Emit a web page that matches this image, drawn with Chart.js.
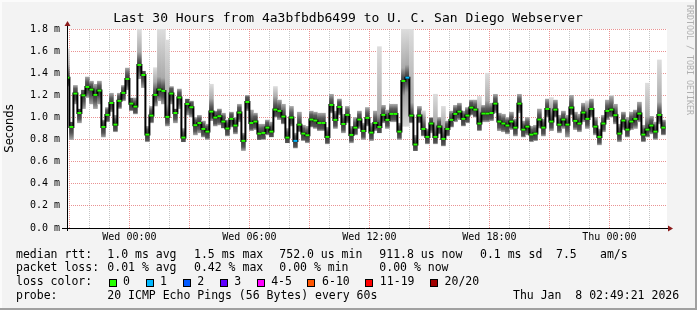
<!DOCTYPE html>
<html>
<head>
<meta charset="utf-8">
<script src="https://cdn.jsdelivr.net/npm/chart.js@4.4.1/dist/chart.umd.min.js"></script>
<style>
  html, body { margin: 0; padding: 0; background: #f3f3f3; }
  canvas { display: block; }
</style>
</head>
<body>
<canvas id="chart" width="697" height="310"></canvas>
<script>
const title = 'Last 30 Hours from 4a3bfbdb6499 to U. C. San Diego Webserver';
const stepStart = -3.2; // hours relative to Wed 00:00
const stepLen = 0.2;    // 12 minute rrd steps

// median rtt per step, in ms
const median = [
  1.36, 0.914, 1.216, 1.04, 1.20, 1.276, 1.252, 1.204, 1.243, 0.914,
  1.023, 1.131, 0.935, 1.15, 1.222, 1.348, 1.125, 1.098, 1.475, 1.384,
  0.845, 1.017, 1.204, 1.252, 1.24, 1.005, 1.216, 1.04, 1.18, 0.818,
  1.122, 1.092, 0.93, 0.95, 0.896, 0.872, 1.053, 0.999, 1.011, 0.963,
  0.90, 0.987, 0.927, 1.044, 0.788, 1.14, 0.95, 0.963, 0.854, 0.86,
  0.908, 0.872, 1.071, 1.059, 1.008, 0.818, 0.999, 0.788, 0.935, 0.854,
  0.839, 0.981, 0.972, 0.95, 0.95, 0.824, 1.113, 0.978, 1.095, 0.941,
  1.023, 0.842, 0.908, 0.981, 0.878, 0.996, 0.863, 0.95, 0.914, 1.023,
  0.978, 1.032, 1.032, 0.872, 1.33, 1.36, 1.017, 0.755, 1.017, 0.896,
  0.824, 0.945, 0.824, 0.917, 0.806, 0.896, 0.978, 1.032, 1.053, 0.987,
  1.017, 1.089, 1.071, 0.945, 1.035, 1.035, 1.04, 1.125, 0.963, 0.945,
  0.927, 0.963, 0.908, 1.125, 0.89, 0.917, 0.845, 0.854, 0.981, 0.908,
  1.077, 0.963, 1.071, 0.935, 0.981, 0.935, 1.089, 0.969, 0.945, 1.044,
  0.987, 1.077, 0.917, 0.824, 0.945, 1.059, 1.071, 1.02, 0.854, 0.972,
  0.89, 0.963, 0.987, 1.035, 0.845, 0.89, 0.927, 0.872, 1.023, 0.908
];

// smoke: fastest and slowest ping per step
const smokeLo = [
  1.28, 0.80, 1.12, 0.95, 1.08, 1.18, 1.12, 1.08, 1.12, 0.82,
  0.96, 1.05, 0.87, 1.08, 1.15, 1.25, 1.06, 1.03, 1.35, 1.27,
  0.78, 0.95, 1.10, 1.15, 1.12, 0.92, 1.12, 0.95, 1.08, 0.78,
  1.02, 1.00, 0.84, 0.86, 0.82, 0.80, 0.97, 0.92, 0.93, 0.90,
  0.83, 0.91, 0.85, 0.96, 0.70, 1.06, 0.88, 0.89, 0.80, 0.80,
  0.84, 0.82, 1.00, 0.98, 0.94, 0.77, 0.92, 0.72, 0.87, 0.79,
  0.77, 0.91, 0.90, 0.88, 0.88, 0.76, 1.04, 0.90, 1.02, 0.86,
  0.95, 0.77, 0.84, 0.90, 0.80, 0.92, 0.79, 0.88, 0.86, 0.95,
  0.90, 0.96, 0.96, 0.80, 0.92, 0.92, 0.95, 0.70, 0.95, 0.83,
  0.76, 0.86, 0.76, 0.85, 0.74, 0.83, 0.91, 0.96, 0.98, 0.92,
  0.95, 1.02, 1.00, 0.88, 0.96, 0.96, 0.97, 1.04, 0.88, 0.87,
  0.85, 0.89, 0.83, 1.04, 0.82, 0.84, 0.78, 0.79, 0.90, 0.83,
  1.00, 0.88, 1.00, 0.86, 0.90, 0.82, 1.02, 0.89, 0.87, 0.96,
  0.90, 1.00, 0.84, 0.75, 0.87, 0.98, 1.00, 0.94, 0.78, 0.89,
  0.82, 0.89, 0.90, 0.96, 0.78, 0.82, 0.85, 0.80, 0.94, 0.84
];
const smokeHi = [
  1.62, 0.96, 1.29, 1.08, 1.25, 1.37, 1.33, 1.30, 1.33, 0.98,
  1.09, 1.22, 1.02, 1.22, 1.29, 1.45, 1.18, 1.18, 1.80, 1.42,
  0.92, 1.10, 1.45, 1.80, 1.80, 1.70, 1.28, 1.08, 1.26, 0.90,
  1.17, 1.15, 1.00, 1.02, 0.97, 0.94, 1.30, 1.06, 1.08, 1.04,
  0.98, 1.05, 1.00, 1.12, 0.86, 1.20, 1.07, 1.04, 0.94, 0.94,
  0.98, 0.96, 1.28, 1.16, 1.12, 0.90, 1.10, 0.86, 1.05, 0.93,
  0.92, 1.06, 1.05, 1.04, 1.04, 0.91, 1.21, 1.06, 1.17, 1.03,
  1.10, 0.92, 1.00, 1.06, 0.95, 1.09, 0.95, 1.06, 1.64, 1.11,
  1.07, 1.12, 1.12, 0.95, 1.80, 1.80, 1.80, 0.84, 1.10, 1.06,
  0.90, 1.00, 1.21, 1.00, 1.10, 0.97, 1.06, 1.11, 1.13, 1.06,
  1.09, 1.16, 1.16, 1.19, 1.11, 1.40, 1.13, 1.21, 1.04, 1.03,
  1.00, 1.05, 0.99, 1.21, 0.97, 1.00, 0.92, 0.93, 1.08, 0.99,
  1.17, 1.18, 1.16, 1.02, 1.06, 1.02, 1.20, 1.05, 1.03, 1.13,
  1.15, 1.17, 1.00, 0.90, 1.02, 1.16, 1.20, 1.12, 0.94, 1.05,
  1.00, 1.05, 1.07, 1.14, 0.93, 1.31, 1.01, 0.96, 1.52, 0.98
];

// steps that lost pings
const lossSteps = [57, 85];
const lossCounts = [1, 1];

const labelHours = [0, 6, 12, 18, 24];
const timeLabels = ['Wed 00:00', 'Wed 06:00', 'Wed 12:00', 'Wed 18:00', 'Thu 00:00'];

const lossLabels = ['0', '1', '2', '3', '4-5', '6-10', '11-19', '20/20'];
const lossBins = [0, 1, 2, 3, 4, 6, 11, 20];
const lossColors = ['#26ff00', '#00b8ff', '#0059ff', '#5e00ff', '#ff00ff', '#ff5500', '#ff0000', '#a10000'];

const rttStats = ['1.0 ms avg', '1.5 ms max', '752.0 us min', '911.8 us now', '0.1 ms sd', '7.5', 'am/s'];
const lossStats = ['0.01 % avg', '0.42 % max', '0.00 % min', '0.00 % now'];
const statX = [107.3, 194, 279.3, 379.3, 480, 556, 600];
const probeText = '20 ICMP Echo Pings (56 Bytes) every 60s';
const stamp = 'Thu Jan  8 02:49:21 2026';

function lossOf(k) {
  const j = lossSteps.indexOf(k);
  return j < 0 ? 0 : lossCounts[j];
}
function lossColor(n) {
  let c = lossColors[0];
  lossBins.forEach((b, i) => { if (n >= b) c = lossColors[i]; });
  return c;
}

const smokeData = median.map((v, k) => ({ x: stepStart + stepLen * (k + 0.5), y: [smokeLo[k], smokeHi[k]] }));
const lineData = median.map((v, k) => ({ x: stepStart + stepLen * k, y: v }));
lineData.push({ x: stepStart + stepLen * median.length, y: median[median.length - 1] });
const markData = [];
median.forEach((v, k) => {
  const x0 = stepStart + stepLen * k;
  markData.push({ x: x0, y: v }, { x: x0 + stepLen, y: v }, { x: x0 + stepLen, y: null });
});

function smokeFill(c) {
  const chart = c.chart;
  if (!chart.chartArea || c.type !== 'data') return '#bbbbbb';
  const k = c.dataIndex;
  const y = chart.scales.y;
  const top = y.getPixelForValue(smokeHi[k]);
  const bot = y.getPixelForValue(smokeLo[k]);
  const mid = y.getPixelForValue(median[k]);
  const h = bot - top;
  if (h <= 0) return '#777777';
  const f = p => Math.min(1, Math.max(0, (p - top) / h));
  const g = chart.ctx.createLinearGradient(0, top, 0, bot);
  g.addColorStop(0, '#dddddd');
  g.addColorStop(f(mid - 13), '#aaaaaa');
  g.addColorStop(f(mid - 5), '#5a5a5a');
  g.addColorStop(f(mid), '#383838');
  g.addColorStop(f(mid + 6), '#555555');
  g.addColorStop(f(mid + 15), '#a4a4a4');
  g.addColorStop(1, '#d8d8d8');
  return g;
}

const frame = {
  id: 'frame',
  beforeDraw(chart) {
    const { ctx, chartArea: a, width, height } = chart;
    ctx.save();
    ctx.fillStyle = '#f3f3f3';
    ctx.fillRect(0, 0, width, height);
    ctx.fillStyle = '#fbfbfb';
    ctx.fillRect(0, 0, width, 2);
    ctx.fillRect(0, 0, 2, height);
    ctx.fillStyle = '#a0a0a0';
    ctx.fillRect(0, height - 2, width, 2);
    ctx.fillRect(width - 2, 0, 2, height);
    ctx.fillStyle = '#ffffff';
    ctx.fillRect(a.left, a.top, a.right - a.left, a.bottom - a.top);
    ctx.restore();
  },
  afterDatasetsDraw(chart) {
    const { ctx, chartArea: a } = chart;
    ctx.save();
    ctx.strokeStyle = '#000';
    ctx.lineWidth = 1;
    ctx.beginPath();
    ctx.moveTo(a.left - 5, a.bottom + 0.5);
    ctx.lineTo(a.right + 2, a.bottom + 0.5);
    ctx.moveTo(a.left + 0.5, a.bottom + 3);
    ctx.lineTo(a.left + 0.5, a.top - 4);
    ctx.stroke();
    ctx.fillStyle = '#8b1a1a';
    ctx.beginPath();
    ctx.moveTo(a.left + 0.5, a.top - 8);
    ctx.lineTo(a.left + 3.5, a.top - 3);
    ctx.lineTo(a.left - 2.5, a.top - 3);
    ctx.closePath();
    ctx.fill();
    ctx.beginPath();
    ctx.moveTo(a.right + 6, a.bottom + 0.5);
    ctx.lineTo(a.right + 1, a.bottom - 2.5);
    ctx.lineTo(a.right + 1, a.bottom + 3.5);
    ctx.closePath();
    ctx.fill();
    ctx.restore();
  },
  afterDraw(chart) {
    const { ctx, chartArea: a } = chart;
    const mono = '"DejaVu Sans Mono", monospace';
    ctx.save();
    ctx.fillStyle = '#000';
    ctx.textBaseline = 'middle';

    ctx.font = '13px ' + mono;
    ctx.textAlign = 'center';
    ctx.fillText(title, 348, 19);

    ctx.save();
    ctx.font = '11.5px "DejaVu Sans", sans-serif';
    ctx.translate(10, (a.top + a.bottom) / 2);
    ctx.rotate(-Math.PI / 2);
    ctx.fillText('Seconds', 0, 0);
    ctx.restore();

    ctx.save();
    ctx.font = '8.3px ' + mono;
    ctx.fillStyle = '#b0b0b0';
    ctx.textAlign = 'left';
    ctx.translate(689, 5);
    ctx.rotate(Math.PI / 2);
    ctx.fillText('RRDTOOL / TOBI OETIKER', 0, 0);
    ctx.restore();

    ctx.font = '11.5px ' + mono;
    ctx.textAlign = 'left';
    ctx.fillText('median rtt:', 16, 255);
    rttStats.forEach((s, i) => ctx.fillText(s, statX[i], 255));
    ctx.fillText('packet loss:', 16, 268.5);
    lossStats.forEach((s, i) => ctx.fillText(s, statX[i], 268.5));
    ctx.fillText('loss color:', 16, 282.5);
    let x = 108.5;
    lossLabels.forEach((l, i) => {
      const bx = Math.round(x);
      ctx.fillStyle = lossColors[i];
      ctx.fillRect(bx, 279, 8, 8);
      ctx.strokeStyle = '#000';
      ctx.strokeRect(bx + 0.5, 279.5, 7, 7);
      ctx.fillStyle = '#000';
      ctx.fillText(l, x + 14.6, 282.5);
      x += 14.6 + ctx.measureText(l).width + 15.5;
    });
    ctx.fillText('probe:', 16, 296.5);
    ctx.fillText(probeText, 107.3, 296.5);
    ctx.fillText(stamp, 513, 296.5);
    ctx.restore();
  }
};

new Chart(document.getElementById('chart'), {
  type: 'bar',
  data: {
    datasets: [
      {
        type: 'line',
        data: markData,
        borderWidth: 2,
        borderColor: lossColors[0],
        segment: { borderColor: c => lossColor(lossOf(Math.floor(c.p0DataIndex / 3))) },
        pointRadius: 0,
        spanGaps: false,
        clip: 0,
        order: 0
      },
      {
        type: 'line',
        data: lineData,
        stepped: true,
        borderWidth: 2,
        borderColor: '#000000',
        pointRadius: 0,
        clip: 0,
        order: 1
      },
      {
        type: 'bar',
        data: smokeData,
        backgroundColor: smokeFill,
        borderWidth: 0,
        borderSkipped: false,
        barPercentage: 1,
        categoryPercentage: 1,
        clip: 0,
        order: 2
      }
    ]
  },
  options: {
    responsive: false,
    animation: false,
    events: [],
    layout: { padding: { left: 0, right: 30, top: 29, bottom: 62 } },
    plugins: { legend: { display: false }, tooltip: { enabled: false } },
    scales: {
      x: {
        type: 'linear',
        min: -3.12,
        max: 26.88,
        offset: false,
        afterBuildTicks: s => {
          const t = [];
          for (let h = -3; h <= 26; h++) t.push({ value: h });
          s.ticks = t;
        },
        afterFit: s => { s.height = 20; },
        grid: {
          offset: false,
          drawTicks: false,
          color: c => (c.tick && c.tick.value % 3 === 0) ? 'rgba(225,110,110,0.75)' : 'rgba(150,150,150,0.55)'
        },
        border: { display: false, dash: [1, 1] },
        ticks: {
          autoSkip: false,
          maxRotation: 0,
          padding: 3,
          color: '#000',
          font: { family: '"DejaVu Sans Mono", monospace', size: 10 },
          callback: v => {
            const i = labelHours.indexOf(v);
            return i < 0 ? '' : timeLabels[i];
          }
        }
      },
      y: {
        min: 0,
        max: 1.8,
        afterFit: s => { s.width = 67; },
        grid: {
          drawTicks: false,
          color: c => (c.tick && Math.round(c.tick.value * 10) % 2 === 0) ? 'rgba(225,110,110,0.75)' : 'rgba(150,150,150,0.55)'
        },
        border: { display: false, dash: [1, 1] },
        ticks: {
          stepSize: 0.1,
          padding: 7,
          color: '#000',
          font: { family: '"DejaVu Sans Mono", monospace', size: 10 },
          callback: v => Math.round(v * 10) % 2 === 0 ? (Math.round(v * 10) / 10).toFixed(1) + ' m' : ''
        }
      }
    }
  },
  plugins: [frame]
});
</script>
</body>
</html>
